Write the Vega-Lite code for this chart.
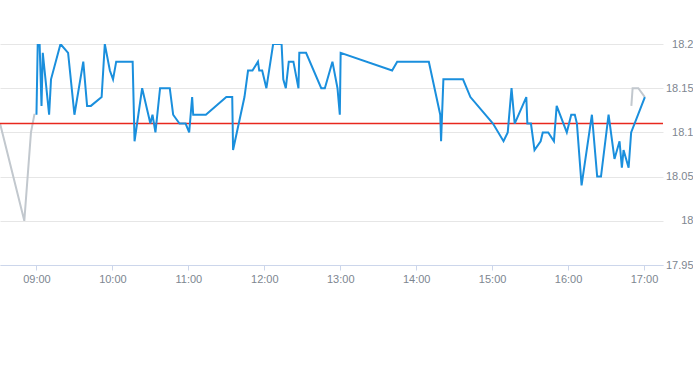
{
  "$schema": "https://vega.github.io/schema/vega-lite/v6.json",
  "width": 663,
  "height": 221,
  "autosize": {"type": "none"},
  "padding": {"top": 44, "left": 0, "right": 30, "bottom": 100},
  "background": "white",
  "config": {"view": {"stroke": null}, "font": "Liberation Sans"},
  "datasets": {
    "prices": [
      {"t": "2024-01-02T08:31:15", "v": 18.11, "s": "pre"},
      {"t": "2024-01-02T08:50:24", "v": 18.00, "s": "pre"},
      {"t": "2024-01-02T08:55:40", "v": 18.10, "s": "pre"},
      {"t": "2024-01-02T08:58:20", "v": 18.12, "s": "pre"},
      {"t": "2024-01-02T08:59:00", "v": 18.12, "s": "pre"},
      {"t": "2024-01-02T09:00:00", "v": 18.12, "s": "main"},
      {"t": "2024-01-02T09:01:00", "v": 18.20, "s": "main"},
      {"t": "2024-01-02T09:02:30", "v": 18.20, "s": "main"},
      {"t": "2024-01-02T09:04:00", "v": 18.13, "s": "main"},
      {"t": "2024-01-02T09:05:00", "v": 18.19, "s": "main"},
      {"t": "2024-01-02T09:10:00", "v": 18.12, "s": "main"},
      {"t": "2024-01-02T09:11:30", "v": 18.16, "s": "main"},
      {"t": "2024-01-02T09:19:00", "v": 18.20, "s": "main"},
      {"t": "2024-01-02T09:25:00", "v": 18.19, "s": "main"},
      {"t": "2024-01-02T09:30:00", "v": 18.12, "s": "main"},
      {"t": "2024-01-02T09:37:00", "v": 18.18, "s": "main"},
      {"t": "2024-01-02T09:40:00", "v": 18.13, "s": "main"},
      {"t": "2024-01-02T09:43:00", "v": 18.13, "s": "main"},
      {"t": "2024-01-02T09:51:30", "v": 18.14, "s": "main"},
      {"t": "2024-01-02T09:54:00", "v": 18.20, "s": "main"},
      {"t": "2024-01-02T09:58:00", "v": 18.17, "s": "main"},
      {"t": "2024-01-02T10:00:30", "v": 18.16, "s": "main"},
      {"t": "2024-01-02T10:03:00", "v": 18.18, "s": "main"},
      {"t": "2024-01-02T10:16:00", "v": 18.18, "s": "main"},
      {"t": "2024-01-02T10:17:30", "v": 18.09, "s": "main"},
      {"t": "2024-01-02T10:23:30", "v": 18.15, "s": "main"},
      {"t": "2024-01-02T10:30:00", "v": 18.11, "s": "main"},
      {"t": "2024-01-02T10:31:40", "v": 18.12, "s": "main"},
      {"t": "2024-01-02T10:34:00", "v": 18.10, "s": "main"},
      {"t": "2024-01-02T10:37:40", "v": 18.15, "s": "main"},
      {"t": "2024-01-02T10:45:20", "v": 18.15, "s": "main"},
      {"t": "2024-01-02T10:48:00", "v": 18.12, "s": "main"},
      {"t": "2024-01-02T10:53:00", "v": 18.11, "s": "main"},
      {"t": "2024-01-02T10:57:50", "v": 18.11, "s": "main"},
      {"t": "2024-01-02T11:00:40", "v": 18.10, "s": "main"},
      {"t": "2024-01-02T11:03:00", "v": 18.14, "s": "main"},
      {"t": "2024-01-02T11:03:50", "v": 18.12, "s": "main"},
      {"t": "2024-01-02T11:13:50", "v": 18.12, "s": "main"},
      {"t": "2024-01-02T11:30:00", "v": 18.14, "s": "main"},
      {"t": "2024-01-02T11:34:40", "v": 18.14, "s": "main"},
      {"t": "2024-01-02T11:35:20", "v": 18.08, "s": "main"},
      {"t": "2024-01-02T11:44:20", "v": 18.14, "s": "main"},
      {"t": "2024-01-02T11:47:10", "v": 18.17, "s": "main"},
      {"t": "2024-01-02T11:50:40", "v": 18.17, "s": "main"},
      {"t": "2024-01-02T11:55:00", "v": 18.18, "s": "main"},
      {"t": "2024-01-02T11:56:00", "v": 18.17, "s": "main"},
      {"t": "2024-01-02T11:58:20", "v": 18.17, "s": "main"},
      {"t": "2024-01-02T12:01:40", "v": 18.15, "s": "main"},
      {"t": "2024-01-02T12:07:00", "v": 18.20, "s": "main"},
      {"t": "2024-01-02T12:13:40", "v": 18.20, "s": "main"},
      {"t": "2024-01-02T12:15:00", "v": 18.16, "s": "main"},
      {"t": "2024-01-02T12:17:00", "v": 18.15, "s": "main"},
      {"t": "2024-01-02T12:19:20", "v": 18.18, "s": "main"},
      {"t": "2024-01-02T12:23:00", "v": 18.18, "s": "main"},
      {"t": "2024-01-02T12:27:00", "v": 18.15, "s": "main"},
      {"t": "2024-01-02T12:27:40", "v": 18.19, "s": "main"},
      {"t": "2024-01-02T12:33:00", "v": 18.19, "s": "main"},
      {"t": "2024-01-02T12:45:00", "v": 18.15, "s": "main"},
      {"t": "2024-01-02T12:47:50", "v": 18.15, "s": "main"},
      {"t": "2024-01-02T12:53:50", "v": 18.18, "s": "main"},
      {"t": "2024-01-02T12:57:50", "v": 18.15, "s": "main"},
      {"t": "2024-01-02T12:59:40", "v": 18.12, "s": "main"},
      {"t": "2024-01-02T13:00:20", "v": 18.19, "s": "main"},
      {"t": "2024-01-02T13:41:00", "v": 18.17, "s": "main"},
      {"t": "2024-01-02T13:45:00", "v": 18.18, "s": "main"},
      {"t": "2024-01-02T14:10:00", "v": 18.18, "s": "main"},
      {"t": "2024-01-02T14:19:00", "v": 18.12, "s": "main"},
      {"t": "2024-01-02T14:19:40", "v": 18.09, "s": "main"},
      {"t": "2024-01-02T14:21:30", "v": 18.16, "s": "main"},
      {"t": "2024-01-02T14:37:00", "v": 18.16, "s": "main"},
      {"t": "2024-01-02T14:42:50", "v": 18.14, "s": "main"},
      {"t": "2024-01-02T15:00:40", "v": 18.11, "s": "main"},
      {"t": "2024-01-02T15:09:00", "v": 18.09, "s": "main"},
      {"t": "2024-01-02T15:12:20", "v": 18.10, "s": "main"},
      {"t": "2024-01-02T15:15:20", "v": 18.15, "s": "main"},
      {"t": "2024-01-02T15:17:50", "v": 18.11, "s": "main"},
      {"t": "2024-01-02T15:27:00", "v": 18.14, "s": "main"},
      {"t": "2024-01-02T15:27:50", "v": 18.11, "s": "main"},
      {"t": "2024-01-02T15:30:40", "v": 18.11, "s": "main"},
      {"t": "2024-01-02T15:33:30", "v": 18.08, "s": "main"},
      {"t": "2024-01-02T15:38:20", "v": 18.09, "s": "main"},
      {"t": "2024-01-02T15:40:00", "v": 18.10, "s": "main"},
      {"t": "2024-01-02T15:44:20", "v": 18.10, "s": "main"},
      {"t": "2024-01-02T15:48:50", "v": 18.09, "s": "main"},
      {"t": "2024-01-02T15:51:00", "v": 18.13, "s": "main"},
      {"t": "2024-01-02T15:59:00", "v": 18.10, "s": "main"},
      {"t": "2024-01-02T16:02:30", "v": 18.12, "s": "main"},
      {"t": "2024-01-02T16:05:20", "v": 18.12, "s": "main"},
      {"t": "2024-01-02T16:07:00", "v": 18.11, "s": "main"},
      {"t": "2024-01-02T16:10:40", "v": 18.04, "s": "main"},
      {"t": "2024-01-02T16:18:50", "v": 18.12, "s": "main"},
      {"t": "2024-01-02T16:23:00", "v": 18.05, "s": "main"},
      {"t": "2024-01-02T16:26:00", "v": 18.05, "s": "main"},
      {"t": "2024-01-02T16:32:00", "v": 18.12, "s": "main"},
      {"t": "2024-01-02T16:36:40", "v": 18.07, "s": "main"},
      {"t": "2024-01-02T16:40:40", "v": 18.09, "s": "main"},
      {"t": "2024-01-02T16:42:30", "v": 18.06, "s": "main"},
      {"t": "2024-01-02T16:43:50", "v": 18.08, "s": "main"},
      {"t": "2024-01-02T16:47:50", "v": 18.06, "s": "main"},
      {"t": "2024-01-02T16:49:50", "v": 18.10, "s": "main"},
      {"t": "2024-01-02T17:00:40", "v": 18.14, "s": "main"},
      {"t": "2024-01-02T16:50:00", "v": 18.13, "s": "post"},
      {"t": "2024-01-02T16:51:00", "v": 18.15, "s": "post"},
      {"t": "2024-01-02T16:55:30", "v": 18.15, "s": "post"},
      {"t": "2024-01-02T17:00:40", "v": 18.14, "s": "post"}
    ],
    "close": [{"c": 18.11, "k": "prev"}]
  },
  "layer": [
    {
      "data": {"name": "prices"},
      "transform": [{"filter": "datum.s !== 'main'"}],
      "mark": {"type": "line", "color": "#c2c8ce", "strokeWidth": 2, "clip": true},
      "encoding": {
        "x": {
          "field": "t", "type": "temporal",
          "scale": {
            "domain": [
              {"year": 2024, "month": 1, "date": 2, "hours": 8, "minutes": 31, "seconds": 12},
              {"year": 2024, "month": 1, "date": 2, "hours": 17, "minutes": 15}
            ]
          },
          "axis": {
            "title": null,
            "format": "%H:%M",
            "values": [
              {"year": 2024, "month": 1, "date": 2, "hours": 9},
              {"year": 2024, "month": 1, "date": 2, "hours": 10},
              {"year": 2024, "month": 1, "date": 2, "hours": 11},
              {"year": 2024, "month": 1, "date": 2, "hours": 12},
              {"year": 2024, "month": 1, "date": 2, "hours": 13},
              {"year": 2024, "month": 1, "date": 2, "hours": 14},
              {"year": 2024, "month": 1, "date": 2, "hours": 15},
              {"year": 2024, "month": 1, "date": 2, "hours": 16},
              {"year": 2024, "month": 1, "date": 2, "hours": 17}
            ],
            "grid": false,
            "domainColor": "#ccd6eb",
            "tickColor": "#ccd6eb",
            "tickSize": 5,
            "labelPadding": 3,
            "labelFontSize": 11,
            "labelColor": "#7d8690",
            "labelFlush": false
          }
        },
        "y": {
          "field": "v", "type": "quantitative",
          "scale": {"domain": [17.95, 18.2], "nice": false, "zero": false},
          "axis": {
            "title": null,
            "orient": "right",
            "values": [17.95, 18, 18.05, 18.1, 18.15, 18.2],
            "format": "~g",
            "grid": true,
            "gridColor": "#e6e6e6",
            "domain": false,
            "ticks": false,
            "labelAlign": "right",
            "labelPadding": 30,
            "labelFontSize": 11,
            "labelColor": "#7d8690"
          }
        },
        "detail": {"field": "s"}
      }
    },
    {
      "data": {"name": "close"},
      "mark": {"type": "rule", "strokeWidth": 1.5, "stroke": "#e8281e"},
      "encoding": {
        "y": {"field": "c", "type": "quantitative"}
      }
    },
    {
      "data": {"name": "prices"},
      "transform": [{"filter": "datum.s === 'main'"}],
      "mark": {"type": "line", "color": "#1a8fdd", "strokeWidth": 2, "clip": true},
      "encoding": {
        "x": {"field": "t", "type": "temporal"},
        "y": {"field": "v", "type": "quantitative"}
      }
    }
  ]
}
